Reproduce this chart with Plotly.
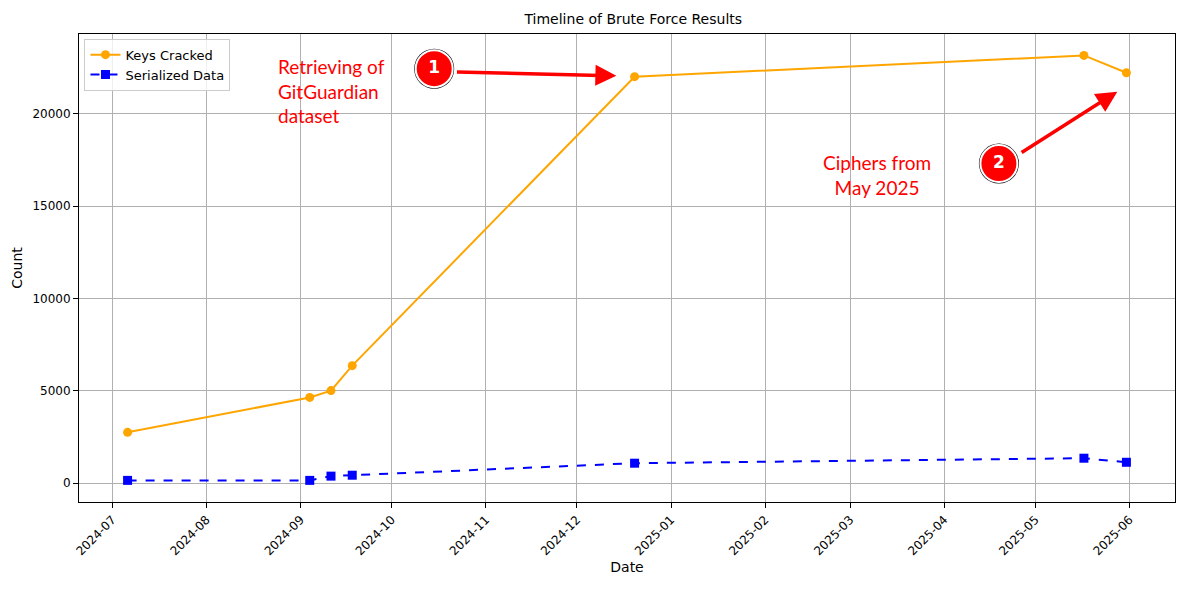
import plotly.graph_objects as go

dates = ["2024-07-06", "2024-09-04", "2024-09-11", "2024-09-18", "2024-12-20", "2025-05-17", "2025-05-31"]
keys_cracked = [2750, 4640, 5010, 6360, 22000, 23150, 22210]
serialized = [150, 150, 380, 430, 1080, 1350, 1130]
tick_vals = ["2024-07-01", "2024-08-01", "2024-09-01", "2024-10-01", "2024-11-01", "2024-12-01",
             "2025-01-01", "2025-02-01", "2025-03-01", "2025-04-01", "2025-05-01", "2025-06-01"]
badge_x = ["2024-10-15", "2025-04-19"]
badge_y = [22430, 17300]
badge_text = ["<b>1</b>", "<b>2</b>"]

fig = go.Figure()
fig.add_trace(go.Scatter(x=dates, y=keys_cracked, mode="lines+markers", name="Keys Cracked",
                         line=dict(color="orange", width=2), marker=dict(size=9, color="orange")))
fig.add_trace(go.Scatter(x=dates, y=serialized, mode="lines+markers", name="Serialized Data",
                         line=dict(color="blue", width=2, dash="dash"),
                         marker=dict(size=9, symbol="square", color="blue")))
fig.add_trace(go.Scatter(x=badge_x, y=badge_y, mode="markers", showlegend=False, hoverinfo="skip",
                         marker=dict(size=40, color="black")))
fig.add_trace(go.Scatter(x=badge_x, y=badge_y, mode="markers+text", showlegend=False, hoverinfo="skip",
                         text=badge_text, textposition="middle center",
                         textfont=dict(color="white", size=17, family="DejaVu Sans"),
                         marker=dict(size=37, color="red", line=dict(color="white", width=2))))

fig.add_annotation(x="2024-12-14", y=22050, ax="2024-10-22", ay=22260, xref="x", yref="y",
                   axref="x", ayref="y", showarrow=True, arrowhead=2, arrowsize=1.2,
                   arrowwidth=3.5, arrowcolor="red", text="")
fig.add_annotation(x="2025-05-28", y=21190, ax="2025-04-26", ay=17840, xref="x", yref="y",
                   axref="x", ayref="y", showarrow=True, arrowhead=2, arrowsize=1.2,
                   arrowwidth=3.5, arrowcolor="red", text="")
fig.add_annotation(x="2024-08-24", y=23300, xref="x", yref="y", showarrow=False, xanchor="left",
                   yanchor="top", align="left", text="Retrieving of<br>GitGuardian<br>dataset",
                   font=dict(color="red", size=19, family="Lato"))
fig.add_annotation(x="2025-03-10", y=16700, xref="x", yref="y", showarrow=False, xanchor="center",
                   yanchor="middle", align="center", text="Ciphers from<br>May 2025",
                   font=dict(color="red", size=19, family="Lato"))

axis_common = dict(showline=True, linecolor="black", mirror=True, showgrid=True, gridcolor="#b0b0b0",
                   ticks="outside", tickcolor="black", zeroline=False, automargin=False,
                   tickfont=dict(size=12, color="black"))
fig.update_layout(
    width=1191, height=592, plot_bgcolor="white", paper_bgcolor="white",
    font=dict(family="DejaVu Sans", color="black", size=12),
    title=dict(text="Timeline of Brute Force Results", x=0.525, xanchor="center", y=0.99,
               yanchor="top", font=dict(size=14)),
    margin=dict(l=71, r=24, t=26, b=98),
    xaxis=dict(axis_common, title=dict(text="Date", standoff=4), type="date",
               range=["2024-06-20", "2025-06-16"], tickvals=tick_vals, tickformat="%Y-%m",
               tickangle=-45),
    yaxis=dict(axis_common, title=dict(text="Count", standoff=6), range=[-1020, 24310],
               tickvals=[0, 5000, 10000, 15000, 20000], tickformat="d"),
    legend=dict(x=0.005, y=0.99, xanchor="left", yanchor="top", bordercolor="#cccccc",
                borderwidth=1, bgcolor="rgba(255,255,255,0.8)", font=dict(size=13)),
)
fig.write_html("out.html")
